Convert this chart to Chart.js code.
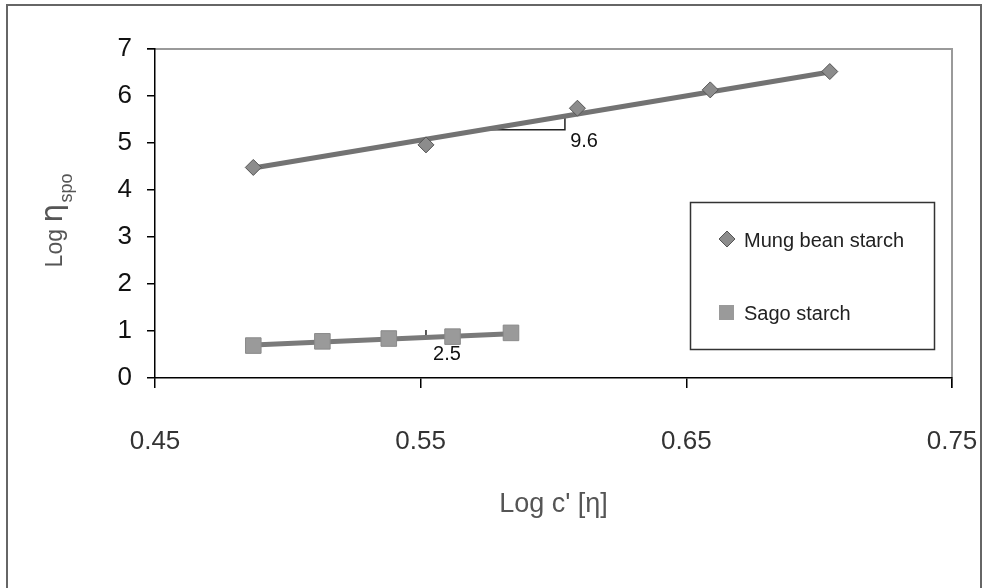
<!DOCTYPE html>
<html>
<head>
<meta charset="utf-8">
<script src="https://cdn.jsdelivr.net/npm/chart.js@4.4.0/dist/chart.umd.min.js"></script>
<style>
  html, body { margin: 0; padding: 0; background: #fff; }
  canvas { display: block; }
</style>
</head>
<body>
<canvas id="chart" width="983" height="588"></canvas>
<script>
const seriesNames = ['Mung bean starch', 'Sago starch'];

const mungX = [0.487, 0.552, 0.609, 0.659, 0.704];
const mungY = [4.48, 4.96, 5.74, 6.13, 6.52];
const sagoX = [0.487, 0.513, 0.538, 0.562, 0.584];
const sagoY = [0.69, 0.78, 0.84, 0.88, 0.96];

// straight fit lines as drawn (end points)
const mungFitX = [0.487, 0.704];
const mungFitY = [4.47, 6.51];
const sagoFitX = [0.487, 0.584];
const sagoFitY = [0.70, 0.94];

// little slope triangles and their labels
const mungSlopeX = [0.575, 0.6043, 0.6043];
const mungSlopeY = [5.28, 5.28, 5.57];
const sagoSlopeX = [0.552, 0.552, 0.559];
const sagoSlopeY = [1.02, 0.86, 0.86];
const slopeLabels = ['9.6', '2.5'];
const slopeLabelX = [0.6115, 0.5599];
const slopeLabelY = [5.04, 0.51];

const xTicks = [0.45, 0.55, 0.65, 0.75];
const yTicks = [0, 1, 2, 3, 4, 5, 6, 7];

const FONT = '"Liberation Sans", Arial, sans-serif';
const toPts = (xs, ys) => xs.map((x, i) => ({ x: x, y: ys[i] }));

const decor = {
  id: 'decor',
  beforeDraw(chart) {
    const { ctx, chartArea: a } = chart;
    ctx.save();
    ctx.fillStyle = '#fff';
    ctx.fillRect(0, 0, chart.width, chart.height);
    // outer frame
    ctx.strokeStyle = '#666';
    ctx.lineWidth = 2;
    ctx.strokeRect(7, 5, 974, 640);
    // grey top / right border of the plot
    ctx.strokeStyle = '#9a9a9a';
    ctx.lineWidth = 2;
    ctx.beginPath();
    ctx.moveTo(a.left - 8, a.top);
    ctx.lineTo(a.right, a.top);
    ctx.lineTo(a.right, a.bottom + 10);
    ctx.stroke();
    ctx.restore();
  },
  afterDraw(chart) {
    const { ctx } = chart;
    const xs = chart.scales.x, ys = chart.scales.y;

    // slope labels
    ctx.save();
    ctx.fillStyle = '#111';
    ctx.font = '20px ' + FONT;
    ctx.textAlign = 'center';
    ctx.textBaseline = 'middle';
    slopeLabels.forEach((t, i) => {
      ctx.fillText(t, xs.getPixelForValue(slopeLabelX[i]), ys.getPixelForValue(slopeLabelY[i]));
    });
    ctx.restore();

    // legend box
    ctx.save();
    ctx.fillStyle = '#fff';
    ctx.fillRect(690, 202, 245, 148);
    ctx.strokeStyle = '#333';
    ctx.lineWidth = 1.5;
    ctx.strokeRect(690.5, 202.5, 244, 147);
    ctx.fillStyle = '#8c8c8c';
    ctx.strokeStyle = '#555';
    ctx.lineWidth = 1;
    // diamond
    ctx.beginPath();
    ctx.moveTo(727, 231); ctx.lineTo(735, 239); ctx.lineTo(727, 247); ctx.lineTo(719, 239);
    ctx.closePath(); ctx.fill(); ctx.stroke();
    // square
    ctx.fillStyle = '#9a9a9a';
    ctx.fillRect(719, 305, 15, 15);
    ctx.fillStyle = '#222';
    ctx.font = '20px ' + FONT;
    ctx.textBaseline = 'middle';
    ctx.textAlign = 'left';
    ctx.fillText(seriesNames[0], 744, 241);
    ctx.fillText(seriesNames[1], 744, 314);
    ctx.restore();

    // y title: Log η with subscript spo
    ctx.save();
    ctx.translate(62, 0);
    ctx.rotate(-Math.PI / 2);
    ctx.fillStyle = '#555';
    ctx.textBaseline = 'alphabetic';
    ctx.textAlign = 'left';
    const f1 = '23px ' + FONT, f2 = '30px "DejaVu Sans", sans-serif', f3 = '18px ' + FONT;
    ctx.font = f1; const w1 = ctx.measureText('Log ').width;
    ctx.font = f2; const w2 = ctx.measureText('η').width;
    ctx.font = f3; const w3 = ctx.measureText('spo').width;
    const x0 = -(221 + (w1 + w2 + w3) / 2);
    ctx.font = f1; ctx.fillText('Log ', x0, 0);
    ctx.font = f2; ctx.fillText('η', x0 + w1, 0);
    ctx.font = f3; ctx.fillText('spo', x0 + w1 + w2 + 1, 10);
    ctx.restore();
  }
};

const ctx = document.getElementById('chart').getContext('2d');

new Chart(ctx, {
  type: 'scatter',
  data: {
    datasets: [
      {
        label: seriesNames[0],
        data: toPts(mungX, mungY),
        pointStyle: 'rectRot',
        pointRadius: 8,
        backgroundColor: '#8c8c8c',
        borderColor: '#555',
        borderWidth: 1,
        showLine: false,
        order: 0
      },
      {
        label: seriesNames[1],
        data: toPts(sagoX, sagoY),
        pointStyle: 'rect',
        pointRadius: 11,
        backgroundColor: '#9a9a9a',
        borderColor: '#8a8a8a',
        borderWidth: 1,
        showLine: false,
        order: 0
      },
      {
        label: 'Mung fit',
        data: toPts(mungFitX, mungFitY),
        showLine: true,
        pointRadius: 0,
        borderColor: '#737373',
        borderWidth: 5,
        order: 1
      },
      {
        label: 'Sago fit',
        data: toPts(sagoFitX, sagoFitY),
        showLine: true,
        pointRadius: 0,
        borderColor: '#7a7a7a',
        borderWidth: 5,
        order: 1
      },
      {
        label: 'Mung slope',
        data: toPts(mungSlopeX, mungSlopeY),
        showLine: true,
        pointRadius: 0,
        borderColor: '#222',
        borderWidth: 1.5,
        order: 2
      },
      {
        label: 'Sago slope',
        data: toPts(sagoSlopeX, sagoSlopeY),
        showLine: true,
        pointRadius: 0,
        borderColor: '#222',
        borderWidth: 1.5,
        order: 2
      }
    ]
  },
  options: {
    responsive: false,
    animation: false,
    layout: { padding: { left: 0, top: 49, right: 31, bottom: 0 } },
    plugins: {
      legend: { display: false },
      tooltip: { enabled: false }
    },
    scales: {
      x: {
        type: 'linear',
        min: 0.45,
        max: 0.75,
        afterFit: s => { s.height = 210; s.paddingLeft = 0; s.paddingRight = 0; },
        afterBuildTicks: s => { s.ticks = xTicks.map(v => ({ value: v })); },
        grid: { drawOnChartArea: false, tickLength: 10, color: '#000', lineWidth: 1.5 },
        border: { display: true, color: '#000', width: 1.5 },
        ticks: {
          padding: 38,
          color: '#333',
          maxRotation: 0,
          autoSkip: false,
          font: { family: FONT, size: 26 },
          callback: v => v.toFixed(2)
        },
        title: {
          display: true,
          text: "Log c' [η]",
          color: '#555',
          font: { family: FONT, size: 27 },
          padding: { top: 0, bottom: 67 }
        }
      },
      y: {
        type: 'linear',
        min: 0,
        max: 7,
        afterFit: s => { s.width = 155; s.paddingTop = 0; s.paddingBottom = 0; },
        afterBuildTicks: s => { s.ticks = yTicks.map(v => ({ value: v })); },
        grid: { drawOnChartArea: false, tickLength: 8, color: '#000', lineWidth: 1.5 },
        border: { display: true, color: '#000', width: 1.5 },
        ticks: {
          padding: 15,
          color: '#111',
          font: { family: FONT, size: 26 }
        }
      }
    }
  },
  plugins: [decor]
});
</script>
</body>
</html>
